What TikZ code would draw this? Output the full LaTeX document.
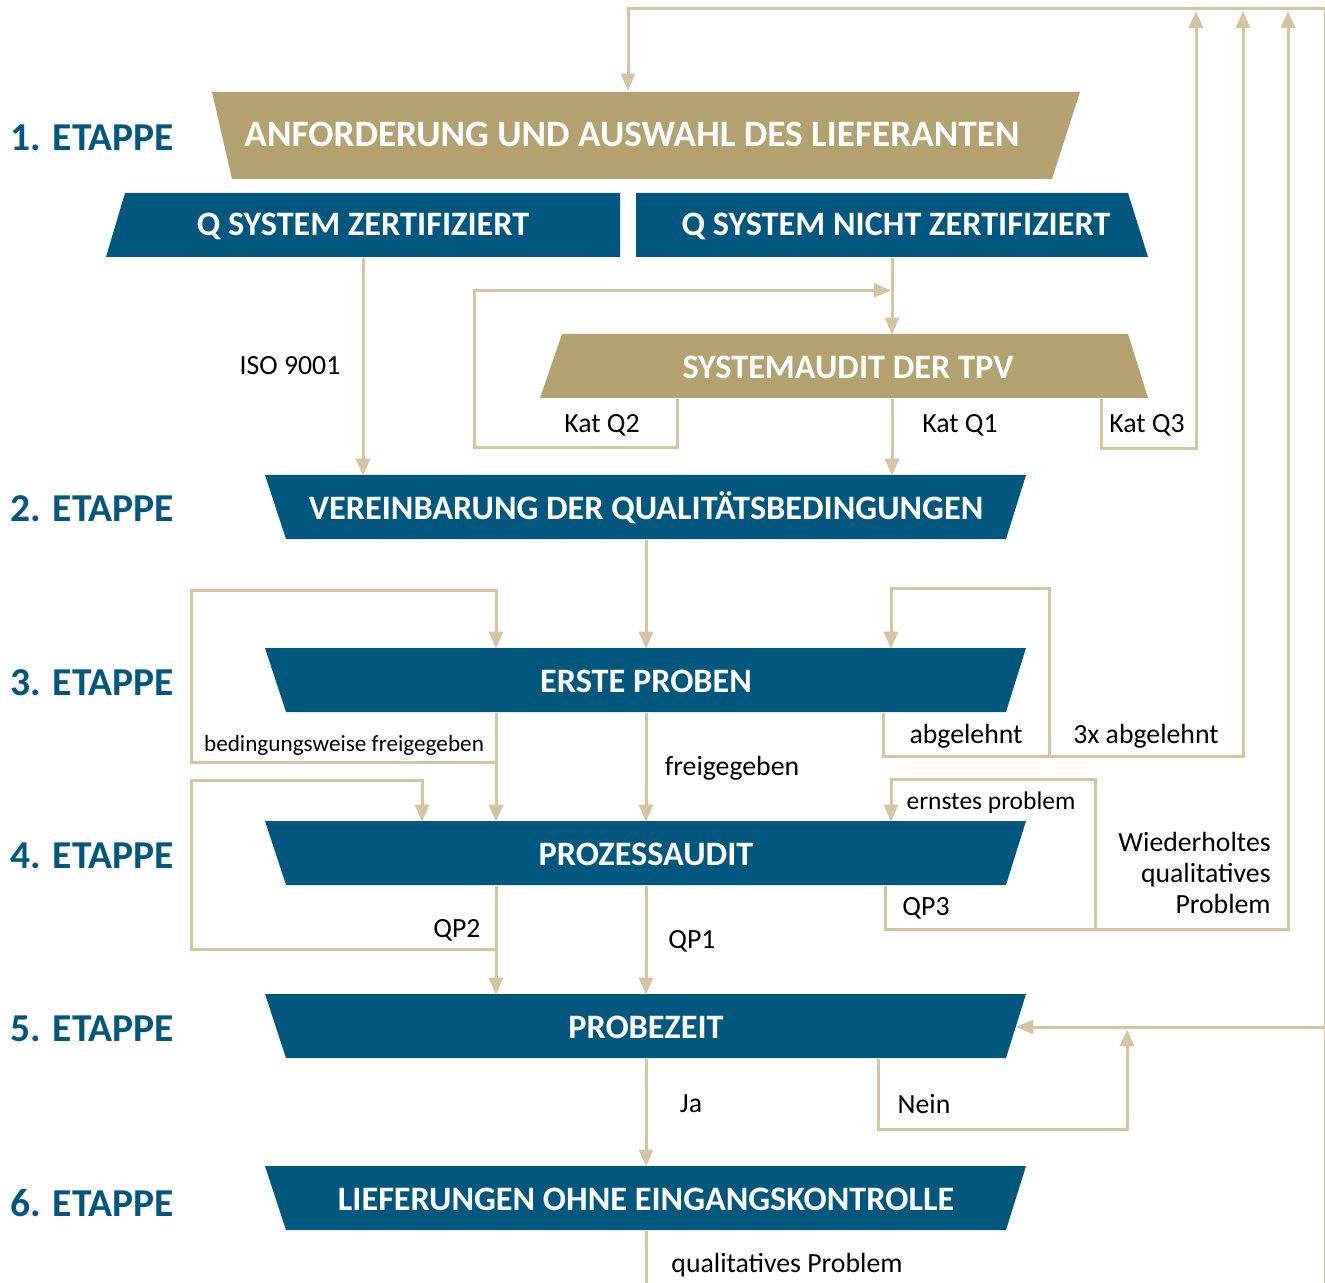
\documentclass[tikz,border=0pt]{standalone}
\usepackage{fontspec}
\setmainfont{Carlito}
\usetikzlibrary{arrows.meta,calc}
\definecolor{gold}{HTML}{B3A16F}
\definecolor{qblue}{HTML}{02577F}
\definecolor{linec}{HTML}{D4C4A0}
\begin{document}
\begin{tikzpicture}[x=0.02cm,y=-0.02cm,
  boxlabel/.style={text=white, font=\bfseries\fontsize{19.5}{22}\selectfont, inner sep=0pt, minimum height=1.28cm},
  bluebox/.style={boxlabel, minimum width=14.8cm},
  etappe/.style={anchor=west, text=qblue, font=\bfseries\fontsize{22.5}{24}\selectfont, inner sep=0pt},
  lbl/.style={font=\fontsize{15.8}{17.6}\selectfont, inner sep=0pt},
  conn/.style={draw=linec, line width=0.06cm},
  arr/.style={conn, -{Triangle[length=0.34cm,width=0.28cm]}}]
\useasboundingbox[fill=white] (0,0) rectangle (1325,1283);
% shapes
\fill[gold] (212,92) -- (1080,92) -- (1052,179) -- (232,179) -- cycle;
\fill[qblue] (125,193) -- (620,193) -- (620,257) -- (106,257) -- cycle;
\fill[qblue] (636,193) -- (1128,193) -- (1148,257) -- (636,257) -- cycle;
\fill[gold] (562,334) -- (1128,334) -- (1148,398) -- (540,398) -- cycle;
\foreach \yy in {475,648,821,994,1166}
  \fill[qblue] (265,\yy) -- (1026,\yy) -- (1006,\yy+64) -- (286,\yy+64) -- cycle;
% box labels
\node[boxlabel, minimum height=1.74cm, font=\bfseries\fontsize{21.2}{23}\selectfont] (anf) at (632,134.5) {ANFORDERUNG UND AUSWAHL DES LIEFERANTEN};
\node[boxlabel] (zert) at (363,226) {Q SYSTEM ZERTIFIZIERT};
\node[boxlabel] (nzert) at (896,226) {Q SYSTEM NICHT ZERTIFIZIERT};
\node[boxlabel] (audit) at (848,367) {SYSTEMAUDIT DER TPV};
\node[bluebox] (vb) at (646,508) {VEREINBARUNG DER QUALITÄTSBEDINGUNGEN};
\node[bluebox] (ep) at (646,681) {ERSTE PROBEN};
\node[bluebox] (pa) at (646,854) {PROZESSAUDIT};
\node[bluebox] (pz) at (646,1027) {PROBEZEIT};
\node[bluebox] (lf) at (646,1199) {LIEFERUNGEN OHNE EINGANGSKONTROLLE};
% stages
\node[etappe] (e1) at (10,138) {1. ETAPPE};
\node[etappe] (e2) at (10,509) {2. ETAPPE};
\node[etappe] (e3) at (10,683) {3. ETAPPE};
\node[etappe] (e4) at (10,856) {4. ETAPPE};
\node[etappe] (e5) at (10,1029) {5. ETAPPE};
\node[etappe] (e6) at (10,1203) {6. ETAPPE};
% edge labels
\node[lbl] (liso) at (290,366) {ISO 9001};
\node[lbl] (lq2) at (602,425) {Kat Q2};
\node[lbl] (lq1) at (960,425) {Kat Q1};
\node[lbl] (lq3) at (1147,425) {Kat Q3};
\node[lbl, font=\fontsize{13.2}{15}\selectfont] (lbed) at (344,745) {bedingungsweise freigegeben};
\node[lbl] (lfrei) at (732,768) {freigegeben};
\node[lbl] (labg) at (966,736) {abgelehnt};
\node[lbl] (l3x) at (1146,736) {3x abgelehnt};
\node[lbl, font=\fontsize{14.5}{16}\selectfont] (lern) at (991,803) {ernstes problem};
\node[lbl] (lqp2) at (457,930) {QP2};
\node[lbl] (lqp1) at (692,941) {QP1};
\node[lbl] (lqp3) at (926,908) {QP3};
\node[lbl, anchor=east, align=right] (lwied) at (1271,873) {Wiederholtes\\qualitatives\\Problem};
\node[lbl] (lja) at (691,1104) {Ja};
\node[lbl] (lnein) at (924,1104) {Nein};
\node[lbl] (lqual) at (787,1265) {qualitatives Problem};
% coordinates
\coordinate (tr) at (1325,9);
\coordinate (br) at (1325,1290);
\coordinate (bt) at (646,1290);
\coordinate (u1) at (1196,11);
\coordinate (u2) at (1243,11);
\coordinate (u3) at (1288,11);
\coordinate (ctop) at (628,50);
\coordinate (cq) at (892,300);
% connectors
\draw[arr] (tr) -| (anf.north -| ctop);
\draw[conn] (tr) -- (br);
\draw[arr] (tr |- pz.east) -- (pz.east);
\draw[arr] (zert.south) -- (zert.south |- vb.north);
\draw[arr] (nzert.south -| cq) -- (audit.north -| cq);
\draw[arr] (audit.south -| cq) -- (vb.north -| cq);
\draw[arr] ($(audit.south)+(-171,0)$) -- ++(0,48) -- ++(-203,0) -- ++(0,-157) -- ++(417,0);
\draw[arr] ($(audit.south)+(253,0)$) -- ++(0,49) -| (u1);
\draw[arr] (vb.south) -- (ep.north);
\draw[arr] ($(ep.south)+(-150,0)$) -- ++(0,49) -- ++(-305,0) -- ++(0,-172) -- ++(305,0) -- ($(ep.north)+(-150,0)$);
\draw[arr] ($(ep.south)+(-150,0)$) -- ($(pa.north)+(-150,0)$);
\draw[arr] (ep.south) -- (pa.north);
\draw[arr] ($(ep.south)+(237,0)$) -- ++(0,43) -- ++(166,0) -- ++(0,-168) -- ++(-158,0) -- ($(ep.north)+(245,0)$);
\draw[arr] ($(ep.south)+(237,0)$) -- ++(0,43) -| (u2);
\draw[arr] ($(pa.south)+(-150,0)$) -- ++(0,63) -- ++(-305,0) -- ++(0,-169) -- ++(231,0) -- ($(pa.north)+(-224,0)$);
\draw[arr] ($(pa.south)+(-150,0)$) -- ($(pz.north)+(-150,0)$);
\draw[arr] (pa.south) -- (pz.north);
\draw[arr] ($(pa.south)+(239,0)$) -- ++(0,43) -- ++(210,0) -- ++(0,-150) -- ++(-204,0) -- ($(pa.north)+(245,0)$);
\draw[arr] ($(pa.south)+(239,0)$) -- ++(0,43) -| (u3);
\draw[arr] (pz.south) -- (lf.north);
\draw[arr] ($(pz.south)+(232,0)$) -- ++(0,70) -- ++(249,0) -- ++(0,-100);
\draw[conn] (lf.south) -- (bt);
\end{tikzpicture}
\end{document}
